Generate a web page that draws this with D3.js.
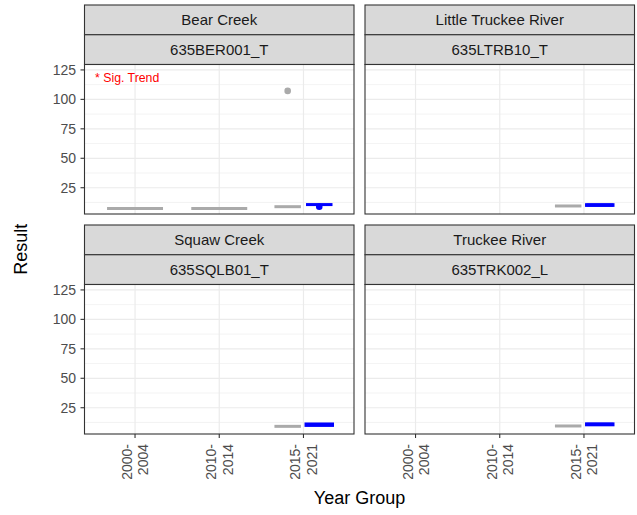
<!DOCTYPE html>
<html>
<head>
<meta charset="utf-8">
<script src="https://cdn.jsdelivr.net/npm/d3@7"></script>
<style>
  body { margin: 0; background: #fff; }
  svg { font-family: "Liberation Sans", Arial, sans-serif; display: block; }
</style>
</head>
<body>
<svg width="637" height="515"></svg>
<script>
const sites = ["Bear Creek", "Little Truckee River", "Squaw Creek", "Truckee River"];
const stations = ["635BER001_T", "635LTRB10_T", "635SQLB01_T", "635TRK002_L"];
const yearGroups = ["2000-2004", "2010-2014", "2015-2021"];
const seriesNames = ["Historical", "Recent"];
const yTicks = [25, 50, 75, 100, 125];
const yMinor = [12.5, 37.5, 62.5, 87.5, 112.5];

// site, year group, series, lower, q1, median, q3, upper
const boxStats = [
  ["Bear Creek", "2000-2004", "Historical", 7.3, 7.3, 7.3, 7.3, 7.3],
  ["Bear Creek", "2010-2014", "Historical", 7.3, 7.3, 7.3, 7.3, 7.3],
  ["Bear Creek", "2015-2021", "Historical", 8.9, 8.9, 8.9, 8.9, 8.9],
  ["Bear Creek", "2015-2021", "Recent", 10.7, 10.7, 10.7, 10.7, 10.7],
  ["Little Truckee River", "2015-2021", "Historical", 9.5, 9.5, 9.5, 9.5, 9.5],
  ["Little Truckee River", "2015-2021", "Recent", 10.0, 10.0, 10.3, 10.6, 10.6],
  ["Squaw Creek", "2015-2021", "Historical", 9.2, 9.2, 9.2, 9.2, 10.3],
  ["Squaw Creek", "2015-2021", "Recent", 10.0, 10.0, 10.6, 11.2, 11.2],
  ["Truckee River", "2015-2021", "Historical", 9.5, 9.5, 9.5, 9.5, 9.5],
  ["Truckee River", "2015-2021", "Recent", 10.5, 10.5, 10.9, 11.3, 11.3]
];

// site, year group, series, value
const outliers = [
  ["Bear Creek", "2015-2021", "Historical", 107.2],
  ["Bear Creek", "2015-2021", "Recent", 8.9]
];

// site, label, y value
const sigNotes = [["Bear Creek", "* Sig. Trend", 118]];

var svg = d3.select("svg");

const colLeft = [84.5, 365],
      rowTop = [5, 225],
      pw = 269.5,
      ph = 149.5,
      stripH = 29.75;

var color = d3.scaleOrdinal()
              .domain(seriesNames)
              .range(["#AAAAAA", "#0000FF"]);

var x = d3.scalePoint()
          .domain(yearGroups)
          .range([0, pw])
          .padding(0.6);

var y = d3.scaleLinear()
          .domain([2.7, 129.6])
          .range([ph, 0]);

const step = x.step(),
      boxW = 0.7,
      dodgeW = 0.75,
      sw = 3;

sites.forEach((site, i) => {
  const col = i % 2,
        row = Math.floor(i / 2),
        px = colLeft[col],
        top = rowTop[row],
        py = top + 2 * stripH;

  // strips
  [site, stations[i]].forEach((label, k) => {
    svg.append("rect")
       .attr("x", px).attr("y", top + k * stripH)
       .attr("width", pw).attr("height", stripH)
       .attr("fill", "#D9D9D9")
       .attr("stroke", "#333333")
       .attr("stroke-width", 1.1);
    svg.append("text")
       .attr("x", px + pw / 2)
       .attr("y", top + k * stripH + stripH / 2 + 5.5)
       .attr("text-anchor", "middle")
       .attr("font-size", 15)
       .attr("fill", "#1A1A1A")
       .text(label);
  });

  var g = svg.append("g").attr("transform", `translate(${px},${py})`);

  g.append("rect")
   .attr("width", pw).attr("height", ph)
   .attr("fill", "#fff");

  g.selectAll(".minor").data(yMinor).enter().append("line")
   .attr("x1", 0).attr("x2", pw)
   .attr("y1", d => y(d)).attr("y2", d => y(d))
   .attr("stroke", "#EBEBEB").attr("stroke-width", 0.6);

  g.selectAll(".major").data(yTicks).enter().append("line")
   .attr("x1", 0).attr("x2", pw)
   .attr("y1", d => y(d)).attr("y2", d => y(d))
   .attr("stroke", "#EBEBEB").attr("stroke-width", 1.2);

  g.selectAll(".vgrid").data(yearGroups).enter().append("line")
   .attr("x1", d => x(d)).attr("x2", d => x(d))
   .attr("y1", 0).attr("y2", ph)
   .attr("stroke", "#EBEBEB").attr("stroke-width", 1.2);

  // boxes, dodged when both series present
  var rows = boxStats.filter(b => b[0] === site);
  rows.forEach(b => {
    const peers = rows.filter(r => r[1] === b[1]),
          n = peers.length,
          j = peers.indexOf(b),
          w = boxW / n * step,
          cx = x(b[1]) + (n > 1 ? (j - (n - 1) / 2) * dodgeW / n * step : 0),
          c = color(b[2]);

    g.append("line")
     .attr("x1", cx).attr("x2", cx)
     .attr("y1", y(b[3])).attr("y2", y(b[7]))
     .attr("stroke", c).attr("stroke-width", sw);
    g.append("rect")
     .attr("x", cx - w / 2 + sw / 2)
     .attr("width", w - sw)
     .attr("y", y(b[6]))
     .attr("height", Math.max(0, y(b[4]) - y(b[6])))
     .attr("fill", c)
     .attr("stroke", c)
     .attr("stroke-width", sw);
    g.append("line")
     .attr("x1", cx - w / 2 + sw / 2).attr("x2", cx + w / 2 - sw / 2)
     .attr("y1", y(b[5])).attr("y2", y(b[5]))
     .attr("stroke", c).attr("stroke-width", sw);
  });

  outliers.filter(o => o[0] === site).forEach(o => {
    const peers = rows.filter(r => r[1] === o[1]),
          n = peers.length,
          j = peers.findIndex(r => r[2] === o[2]),
          cx = x(o[1]) + (n > 1 ? (j - (n - 1) / 2) * dodgeW / n * step : 0);
    g.append("circle")
     .attr("cx", cx).attr("cy", y(o[3]))
     .attr("r", 3.3)
     .attr("fill", color(o[2]));
  });

  sigNotes.filter(s => s[0] === site).forEach(s => {
    g.append("text")
     .attr("x", 10.5)
     .attr("y", y(s[2]) + 4.3)
     .attr("font-size", 12.3)
     .attr("fill", "#FF0000")
     .text(s[1]);
  });

  g.append("rect")
   .attr("width", pw).attr("height", ph)
   .attr("fill", "none")
   .attr("stroke", "#333333")
   .attr("stroke-width", 1.1);

  // y axis on left column
  if (col === 0) {
    yTicks.forEach(t => {
      g.append("line")
       .attr("x1", -4).attr("x2", 0)
       .attr("y1", y(t)).attr("y2", y(t))
       .attr("stroke", "#333333").attr("stroke-width", 1.1);
      g.append("text")
       .attr("x", -8.5)
       .attr("y", y(t) + 5)
       .attr("text-anchor", "end")
       .attr("font-size", 14)
       .attr("fill", "#4D4D4D")
       .text(t);
    });
  }

  // x axis on bottom row
  if (row === 1) {
    yearGroups.forEach(yg => {
      g.append("line")
       .attr("x1", x(yg)).attr("x2", x(yg))
       .attr("y1", ph).attr("y2", ph + 4)
       .attr("stroke", "#333333").attr("stroke-width", 1.1);
      var t = g.append("text")
               .attr("transform", `translate(${x(yg)},${ph + 10})rotate(-90)`)
               .attr("text-anchor", "end")
               .attr("font-size", 14)
               .attr("fill", "#4D4D4D");
      const parts = yg.split("-");
      t.append("tspan").attr("x", 0).attr("y", -3).text(parts[0] + "-");
      t.append("tspan").attr("x", 0).attr("y", 13.3).text(parts[1]);
    });
  }
});

svg.append("text")
   .attr("transform", `translate(27,${rowTop[0] + 2 * stripH + (rowTop[1] + 2 * stripH + ph - rowTop[0] - 2 * stripH) / 2})rotate(-90)`)
   .attr("text-anchor", "middle")
   .attr("font-size", 18)
   .attr("fill", "#000")
   .text("Result");

svg.append("text")
   .attr("x", colLeft[0] + (colLeft[1] + pw - colLeft[0]) / 2)
   .attr("y", 504)
   .attr("text-anchor", "middle")
   .attr("font-size", 18)
   .attr("fill", "#000")
   .text("Year Group");
</script>
</body>
</html>
